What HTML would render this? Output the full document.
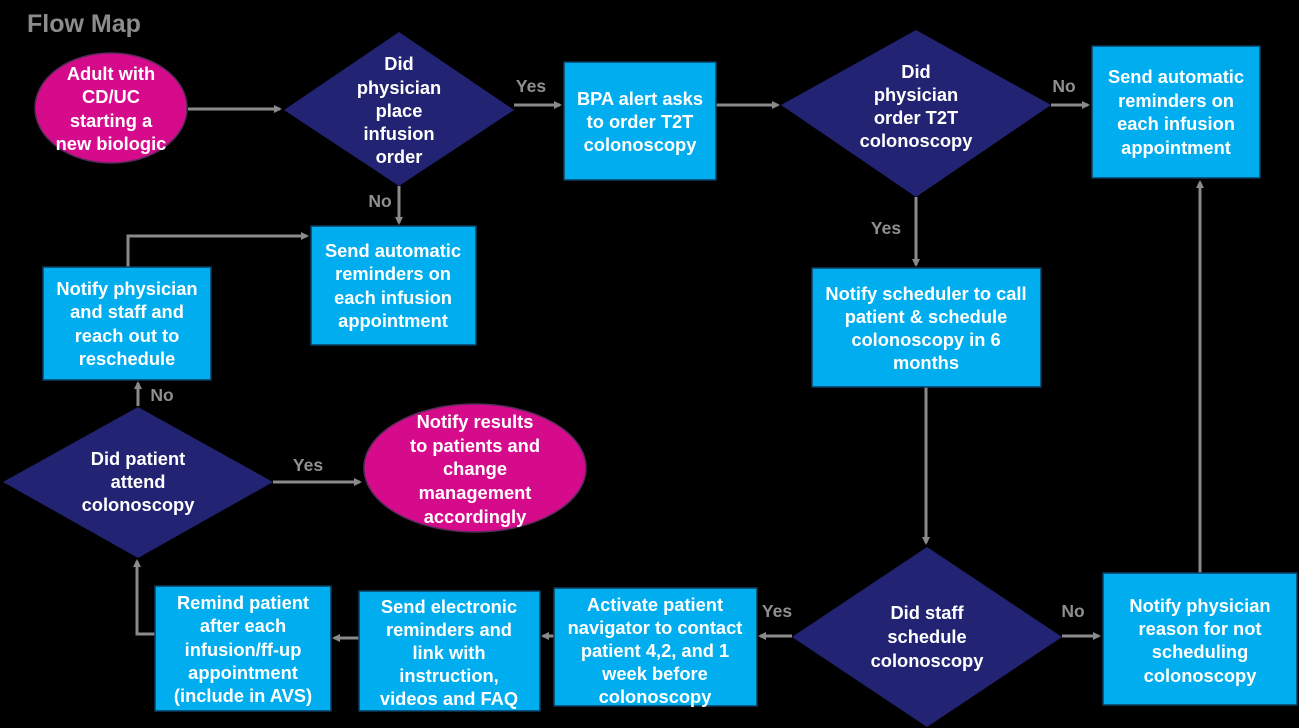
<!DOCTYPE html>
<html><head><meta charset="utf-8"><style>
html,body{margin:0;padding:0;background:#000;}
svg{display:block;}
text{font-family:"Liberation Sans",sans-serif;font-weight:bold;fill:#fff;font-size:18.3px;text-anchor:middle;}
.l{fill:#8f8f8f;font-size:17.5px;}
.a{stroke:#8a8a8a;stroke-width:3;fill:none;}
.b{fill:#00aeef;stroke:#0d3a5c;stroke-width:1.5;}
.d{fill:#232373;}
.e{fill:#d60b8c;stroke:#5a2a5a;stroke-width:1.5;}
</style></head><body>
<svg width="1299" height="728" viewBox="0 0 1299 728">
<defs><marker id="m" markerWidth="8" markerHeight="8" refX="6" refY="4" orient="auto" markerUnits="userSpaceOnUse"><path d="M0,0 L8,4 L0,8 z" fill="#8a8a8a"/></marker></defs>
<text x="27" y="32" style="text-anchor:start;font-size:25px;fill:#8c8c8c">Flow Map</text>

<line class="a" x1="188" y1="109" x2="280" y2="109" marker-end="url(#m)"/>
<line class="a" x1="514" y1="105" x2="560" y2="105" marker-end="url(#m)"/>
<line class="a" x1="716" y1="105" x2="778" y2="105" marker-end="url(#m)"/>
<line class="a" x1="1051" y1="105" x2="1088" y2="105" marker-end="url(#m)"/>
<line class="a" x1="399" y1="186" x2="399" y2="223" marker-end="url(#m)"/>
<line class="a" x1="916" y1="197" x2="916" y2="265" marker-end="url(#m)"/>
<line class="a" x1="926" y1="387" x2="926" y2="543" marker-end="url(#m)"/>
<line class="a" x1="1062" y1="636" x2="1099" y2="636" marker-end="url(#m)"/>
<line class="a" x1="1200" y1="573" x2="1200" y2="182" marker-end="url(#m)"/>
<line class="a" x1="792" y1="636" x2="760" y2="636" marker-end="url(#m)"/>
<line class="a" x1="554" y1="636" x2="543" y2="636" marker-end="url(#m)"/>
<line class="a" x1="359" y1="638" x2="334" y2="638" marker-end="url(#m)"/>
<polyline class="a" points="155,634 137,634 137,561" marker-end="url(#m)"/>
<line class="a" x1="273" y1="482" x2="360" y2="482" marker-end="url(#m)"/>
<line class="a" x1="138" y1="406" x2="138" y2="383" marker-end="url(#m)"/>
<polyline class="a" points="128,267 128,236 307,236" marker-end="url(#m)"/>

<text class="l" x="531" y="92">Yes</text>
<text class="l" x="1064" y="92">No</text>
<text class="l" x="380" y="207">No</text>
<text class="l" x="886" y="234">Yes</text>
<text class="l" x="1073" y="617">No</text>
<text class="l" x="777" y="617">Yes</text>
<text class="l" x="308" y="471">Yes</text>
<text class="l" x="162" y="401">No</text>

<ellipse class="e" cx="111" cy="108" rx="76" ry="55"/>
<text x="111" y="80">Adult with</text><text x="111" y="103">CD/UC</text><text x="111" y="127">starting a</text><text x="111" y="150">new biologic</text>

<polygon class="d" points="284,110 399,32 514,110 399,186"/>
<text x="399" y="70">Did</text><text x="399" y="94">physician</text><text x="399" y="117">place</text><text x="399" y="140">infusion</text><text x="399" y="163">order</text>

<rect class="b" x="564" y="62" width="152" height="118"/>
<text x="640" y="105">BPA alert asks</text><text x="640" y="128">to order T2T</text><text x="640" y="151">colonoscopy</text>

<polygon class="d" points="781,105 916,30 1051,105 916,197"/>
<text x="916" y="78">Did</text><text x="916" y="101">physician</text><text x="916" y="124">order T2T</text><text x="916" y="147">colonoscopy</text>

<rect class="b" x="1092" y="46" width="168" height="132"/>
<text x="1176" y="83">Send automatic</text><text x="1176" y="107">reminders on</text><text x="1176" y="130">each infusion</text><text x="1176" y="154">appointment</text>

<rect class="b" x="311" y="226" width="165" height="119"/>
<text x="393" y="257">Send automatic</text><text x="393" y="280">reminders on</text><text x="393" y="304">each infusion</text><text x="393" y="327">appointment</text>

<rect class="b" x="43" y="267" width="168" height="113"/>
<text x="127" y="295">Notify physician</text><text x="127" y="318">and staff and</text><text x="127" y="342">reach out to</text><text x="127" y="365">reschedule</text>

<rect class="b" x="812" y="268" width="229" height="119"/>
<text x="926" y="300">Notify scheduler to call</text><text x="926" y="323">patient &amp; schedule</text><text x="926" y="346">colonoscopy in 6</text><text x="926" y="369">months</text>

<polygon class="d" points="3,482 138,407 273,482 138,558"/>
<text x="138" y="465">Did patient</text><text x="138" y="488">attend</text><text x="138" y="511">colonoscopy</text>

<ellipse class="e" cx="475" cy="468" rx="111" ry="64"/>
<text x="475" y="428">Notify results</text><text x="475" y="452">to patients and</text><text x="475" y="475">change</text><text x="475" y="499">management</text><text x="475" y="523">accordingly</text>

<polygon class="d" points="792,637 927,547 1062,637 927,727"/>
<text x="927" y="619">Did staff</text><text x="927" y="643">schedule</text><text x="927" y="667">colonoscopy</text>

<rect class="b" x="1103" y="573" width="194" height="132"/>
<text x="1200" y="612">Notify physician</text><text x="1200" y="635">reason for not</text><text x="1200" y="658">scheduling</text><text x="1200" y="682">colonoscopy</text>

<rect class="b" x="554" y="588" width="203" height="118"/>
<text x="655" y="611">Activate patient</text><text x="655" y="634">navigator to contact</text><text x="655" y="657">patient 4,2, and 1</text><text x="655" y="680">week before</text><text x="655" y="703">colonoscopy</text>

<rect class="b" x="359" y="591" width="181" height="120"/>
<text x="449" y="613">Send electronic</text><text x="449" y="636">reminders and</text><text x="449" y="659">link with</text><text x="449" y="682">instruction,</text><text x="449" y="705">videos and FAQ</text>

<rect class="b" x="155" y="586" width="176" height="125"/>
<text x="243" y="609">Remind patient</text><text x="243" y="632">after each</text><text x="243" y="656">infusion/ff-up</text><text x="243" y="679">appointment</text><text x="243" y="702">(include in AVS)</text>
</svg>
</body></html>
